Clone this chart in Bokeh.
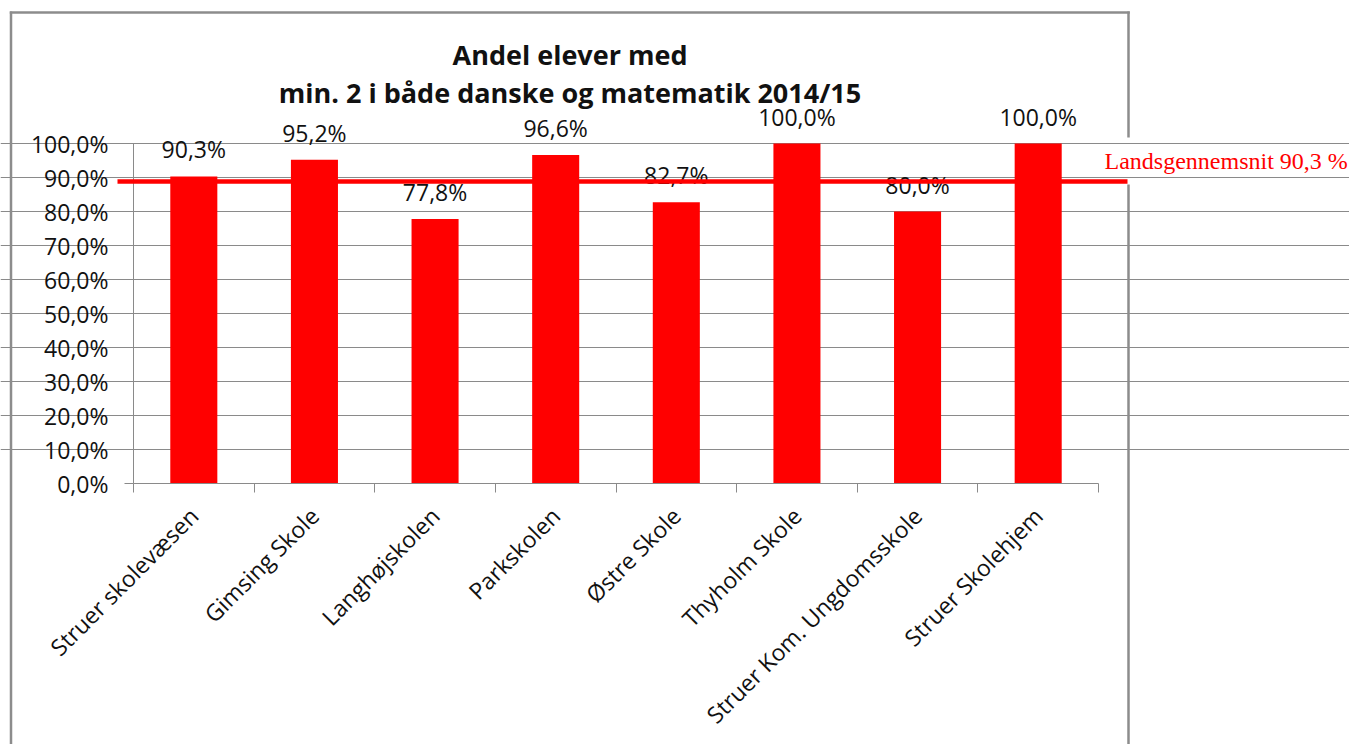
import math
from bokeh.plotting import figure
from bokeh.models import (Range1d, FixedTicker, LabelSet, Label, Arrow, ColumnDataSource,
                          LinearAxis)
from bokeh.core.properties import value
from bokeh.embed import file_html
from bokeh.resources import INLINE

# ---------------- data ----------------
schools = ["Struer skolevæsen", "Gimsing Skole", "Langhøjskolen", "Parkskolen",
           "Østre Skole", "Thyholm Skole", "Struer Kom. Ungdomsskole", "Struer Skolehjem"]
shares = [90.3, 95.2, 77.8, 96.6, 82.7, 100.0, 80.0, 100.0]
y_ticks = [0, 10, 20, 30, 40, 50, 60, 70, 80, 90, 100]
y_tick_labels = ["0,0%", "10,0%", "20,0%", "30,0%", "40,0%", "50,0%",
                 "60,0%", "70,0%", "80,0%", "90,0%", "100,0%"]
title_lines = ["Andel elever med", "min. 2 i både danske og matematik 2014/15"]
national_label = "Landsgennemsnit 90,3 %"
national_line_level = 88.8   # where the drawn reference line sits in the picture

# ---------------- layout (canvas pixels) ----------------
FRAME_L, FRAME_R, FRAME_T, FRAME_B = 133, 1098, 143, 483   # the plot area
W, H = 1349, 744
n = len(schools)

def x_of(px):
    return (px - FRAME_L) / (FRAME_R - FRAME_L) * n

def y_of(py):
    return (FRAME_B - py) / (FRAME_B - FRAME_T) * 100

FONT = "Open Sans"
TXT = "#111111"
GRID = "#8a8a8a"
RED = "#FF0000"

p = figure(frame_width=W, frame_height=H,
           min_border_left=0, min_border_right=0, min_border_top=0, min_border_bottom=0,
           x_range=Range1d(x_of(0), x_of(W)), y_range=Range1d(y_of(H), y_of(0)),
           x_axis_location=None, y_axis_location=None,
           output_backend="svg", toolbar_location=None, tools="")
p.outline_line_color = None
p.background_fill_color = "white"
p.border_fill_color = "white"

centers = [i + 0.5 for i in range(n)]
bounds = list(range(n + 1))

# x axis
xaxis = LinearAxis(fixed_location=0, bounds=(0, n),
                   ticker=FixedTicker(ticks=centers, minor_ticks=bounds))
xaxis.major_label_overrides = {c: s for c, s in zip(centers, schools)}
xaxis.major_tick_line_color = None
xaxis.minor_tick_line_color = GRID
xaxis.minor_tick_out = 9
xaxis.minor_tick_in = 0
xaxis.axis_line_color = GRID
xaxis.major_label_orientation = math.pi / 4
xaxis.major_label_text_font = FONT
xaxis.major_label_text_font_size = "23px"
xaxis.major_label_text_color = TXT
xaxis.major_label_standoff = 19
p.add_layout(xaxis, "below")

# y axis
yaxis = LinearAxis(fixed_location=0, bounds=(0, 100), ticker=FixedTicker(ticks=y_ticks))
yaxis.major_label_overrides = dict(zip(y_ticks, y_tick_labels))
yaxis.minor_tick_line_color = None
yaxis.major_tick_line_color = GRID
yaxis.major_tick_out = 9
yaxis.major_tick_in = 0
yaxis.axis_line_color = GRID
yaxis.major_label_text_font = FONT
yaxis.major_label_text_font_size = "23px"
yaxis.major_label_text_color = TXT
yaxis.major_label_standoff = 16
p.add_layout(yaxis, "left")

p.ygrid.grid_line_color = GRID
p.ygrid.grid_line_alpha = 1.0
p.ygrid.bounds = (0, n)
p.ygrid.ticker = FixedTicker(ticks=y_ticks[1:])
p.xgrid.visible = False

# bars
p.vbar(x=centers, top=shares, width=0.39, bottom=0, fill_color=RED, line_color=None)

# data labels
src = ColumnDataSource(dict(x=centers, y=shares,
                            text=[f"{v:.1f}".replace(".", ",") + "%" for v in shares]))
p.add_layout(LabelSet(x="x", y="y", text="text", source=src, y_offset=18,
                      text_align="center", text_baseline="alphabetic",
                      text_font=value(FONT), text_font_size=value("23px"),
                      text_color=TXT))

# chart border (Excel chart area)
BORDER = "#8c8c8c"
for (x0, y0, x1, y1) in [
    (10.5, 11.0, 10.5, 900.0),
    (9.3, 12.0, 1129.3, 12.0),
    (1128.0, 11.0, 1128.0, 137.0),
    (1128.0, 184.0, 1128.0, 900.0),
]:
    p.add_layout(Arrow(end=None, start=None, x_start=x_of(x0), y_start=y_of(y0),
                       x_end=x_of(x1), y_end=y_of(y1),
                       line_color=BORDER, line_width=2.5))

# national average reference line
p.add_layout(Arrow(end=None, start=None, x_start=x_of(117), y_start=national_line_level,
                   x_end=x_of(1127), y_end=national_line_level,
                   line_color=RED, line_width=4.5))
p.add_layout(Label(x=x_of(1104), y=y_of(160), text=national_label,
                   text_font="Liberation Serif", text_font_size="24px",
                   text_color=RED, text_baseline="alphabetic", text_align="left"))

# title
for line, base in zip(title_lines, [54, 92]):
    p.add_layout(Label(x=x_of(569.5), y=y_of(base), text=line,
                       text_font=FONT, text_font_style="bold", text_font_size="27px",
                       text_color=TXT, text_align="center", text_baseline="alphabetic"))

open("out.html", "w").write(file_html(p, INLINE))
